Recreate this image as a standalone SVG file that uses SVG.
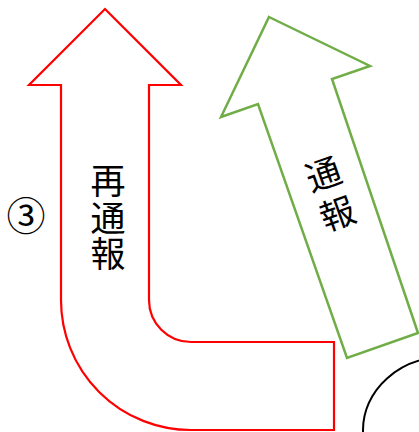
<svg xmlns="http://www.w3.org/2000/svg" width="419" height="432" viewBox="0 0 419 432">
<style>
.lbl{font-family:"Noto Sans CJK JP","Noto Sans CJK SC",sans-serif;font-size:35px;fill:#000;text-anchor:middle}
.vert{writing-mode:vertical-rl;glyph-orientation-vertical:0}
</style>
<rect width="419" height="432" fill="#fff"/>
<g id="connectors">
<path id="red-arrow" d="M105,9 L181,85 L149,85 L149,300 A42,42 0 0 0 191,342 L334,342 L334,430 L191,430 A130,130 0 0 1 61,300 L61,85 L29,85 Z" fill="#fff" stroke="#ff0000" stroke-width="2.2"/>
<polygon id="green-arrow" points="269,17 370,66 332,79 418,333 347,358 258,104 221,117" fill="#fff" stroke="#70ad47" stroke-width="2.5" stroke-linejoin="miter"/>
</g>
<g id="label-red">
<text class="lbl vert" x="108" y="218" style="letter-spacing:1.5px">再通報</text>
</g>
<g id="label-green" transform="translate(331.5,197) rotate(-19.5)">
<text class="lbl vert" x="0" y="0" style="letter-spacing:7px">通報</text>
</g>
<g id="num3">
<text class="lbl" x="26" y="230" style="font-size:39px">③</text>
</g>
<g id="ellipse-node">
<ellipse cx="445" cy="430" rx="82" ry="73" fill="none" stroke="#000" stroke-width="2"/>
</g>
</svg>
